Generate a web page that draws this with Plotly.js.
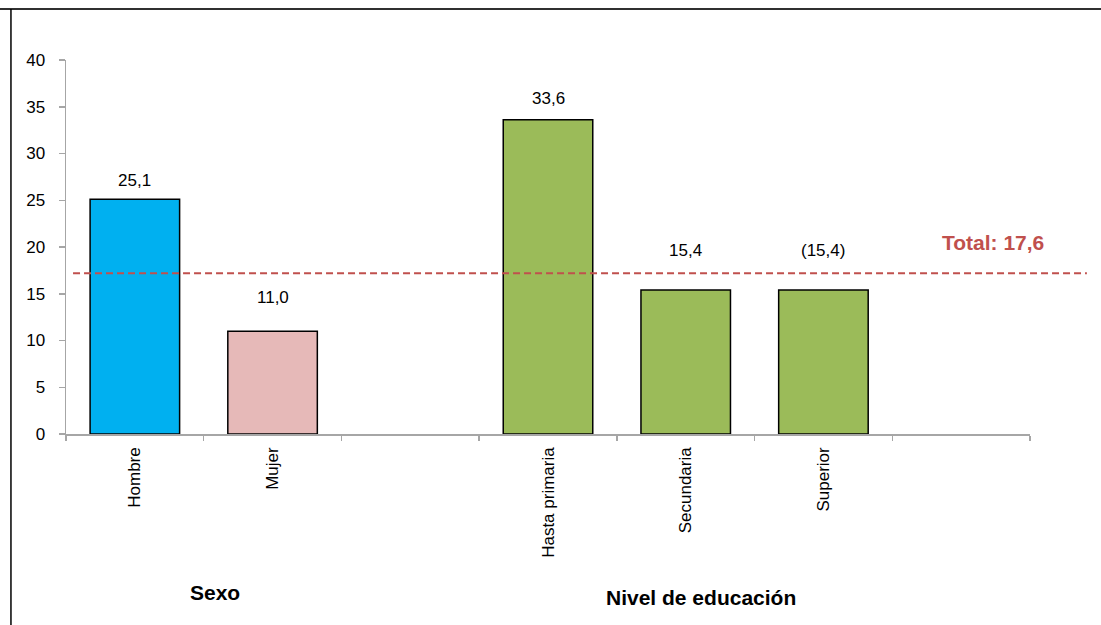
<!DOCTYPE html>
<html>
<head>
<meta charset="utf-8">
<script src="https://cdn.plot.ly/plotly-3.0.1.min.js"></script>
<style>html,body{margin:0;padding:0;background:#fff;}#chart{width:1101px;height:625px;}</style>
</head>
<body>
<div id="chart"></div>
<script>
// Data
const categories = ["Hombre", "Mujer", " ", "Hasta primaria", "Secundaria", "Superior", "  "];
const values = [25.1, 11.0, null, 33.6, 15.4, 15.4, null];
const valueLabels = ["25,1", "11,0", "", "33,6", "15,4", "(15,4)", ""];
const barColors = ["#00B0F0", "#E6B9B8", "#FFFFFF", "#9BBB59", "#9BBB59", "#9BBB59", "#FFFFFF"];
const totalLabel = "Total: 17,6";
const totalLineLevel = 17.2; // level of the dashed line
const groupLabels = ["Sexo", "Nivel de educación"];
const yTicks = [0, 5, 10, 15, 20, 25, 30, 35, 40];

// Rendering (positions/styles)
const FONT = '"Liberation Sans Narrow", "Arial Narrow", "Liberation Sans", Arial, sans-serif';
const labelShift = [19, 34, 0, 21, 40, 40, 0];

const trace = {
  type: 'bar',
  x: categories,
  y: values,
  width: 0.65,
  marker: { color: barColors, line: { color: '#000000', width: 1.5 } },
  hoverinfo: 'x+y',
  showlegend: false
};

const annotations = [];
categories.forEach((c, i) => {
  if (values[i] !== null && valueLabels[i] !== "") {
    annotations.push({
      x: c, y: values[i], xref: 'x', yref: 'y',
      text: valueLabels[i], showarrow: false,
      yanchor: 'middle', yshift: labelShift[i],
      font: { family: FONT, size: 17, color: '#000000' }
    });
  }
});
annotations.push({
  x: 0.962, y: 0.513, xref: 'paper', yref: 'paper', xanchor: 'center', yanchor: 'middle',
  text: '<b>' + totalLabel + '</b>', showarrow: false,
  font: { family: FONT, size: 21, color: '#C0504D' }
});
annotations.push({
  x: 0.155, y: -0.423, xref: 'paper', yref: 'paper', xanchor: 'center', yanchor: 'middle',
  text: '<b>' + groupLabels[0] + '</b>', showarrow: false,
  font: { family: FONT, size: 21, color: '#000000' }
});
annotations.push({
  x: 0.659, y: -0.438, xref: 'paper', yref: 'paper', xanchor: 'center', yanchor: 'middle',
  text: '<b>' + groupLabels[1] + '</b>', showarrow: false,
  font: { family: FONT, size: 21, color: '#000000' }
});

const layout = {
  width: 1101, height: 625,
  margin: { l: 66, r: 71, t: 60, b: 191 },
  paper_bgcolor: '#FFFFFF', plot_bgcolor: '#FFFFFF',
  font: { family: FONT, color: '#000000' },
  xaxis: {
    type: 'category',
    categoryorder: 'array', categoryarray: categories,
    range: [-0.5, 6.5],
    tickson: 'boundaries',
    ticks: 'outside', ticklen: 5, tickcolor: '#A6A6A6', tickwidth: 1.5,
    showline: true, linecolor: '#A6A6A6', linewidth: 1.5,
    showgrid: false, zeroline: false,
    tickangle: -90,
    ticklabelstandoff: 5,
    tickfont: { family: FONT, size: 17, color: '#000000' },
    fixedrange: true
  },
  yaxis: {
    range: [0, 40],
    tickvals: yTicks,
    ticktext: yTicks.map(String),
    ticks: 'outside', ticklen: 6, tickcolor: '#A6A6A6', tickwidth: 1.5,
    showline: true, linecolor: '#A6A6A6', linewidth: 1.5,
    showgrid: false, zeroline: false,
    ticklabelstandoff: 10,
    tickfont: { family: FONT, size: 17, color: '#000000' },
    fixedrange: true
  },
  shapes: [
    { type: 'line', xref: 'paper', yref: 'y', x0: 0.0073, x1: 1.059, y0: totalLineLevel, y1: totalLineLevel,
      line: { color: '#C0504D', width: 2, dash: '7px,4px' } },
    { type: 'line', xref: 'paper', yref: 'paper', x0: -0.0685, x1: 1.1, y0: 1.1363, y1: 1.1363,
      line: { color: '#303030', width: 2 } },
    { type: 'line', xref: 'paper', yref: 'paper', x0: -0.0571, x1: -0.0571, y0: 1.1363, y1: -0.6,
      line: { color: '#000000', width: 1.5 } }
  ],
  annotations: annotations,
  bargap: 0.35,
  showlegend: false
};

Plotly.newPlot('chart', [trace], layout, { displayModeBar: false, staticPlot: true });
</script>
</body>
</html>
